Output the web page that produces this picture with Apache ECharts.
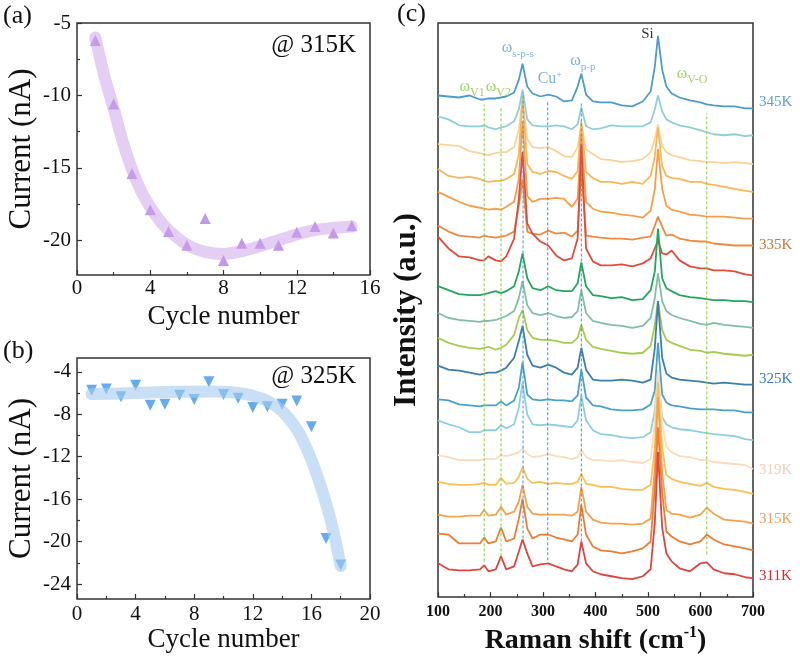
<!DOCTYPE html>
<html>
<head>
<meta charset="utf-8">
<script src="https://cdn.jsdelivr.net/npm/echarts@6/dist/echarts.min.js"></script>
<style>
  html, body { margin: 0; padding: 0; background: #ffffff; }
  #chart { width: 800px; height: 660px; }
</style>
</head>
<body>
<div id="chart"></div>
<script>
// ---------- Panel (a): current vs. cycle number at 315 K ----------
const cycleA = [1, 2, 3, 4, 5, 6, 7, 8, 9, 10, 11, 12, 13, 14, 15];
const currentA = [-6.2, -10.6, -15.4, -17.9, -19.4, -20.35, -18.5, -21.4, -20.2, -20.2, -20.35, -19.45, -19.05, -19.5, -19.0];
const fitCycleA = [1, 1.5, 2, 2.5, 3, 3.5, 4, 4.5, 5, 6, 7, 8, 9, 10, 11, 12, 13, 14, 15];
const fitCurrentA = [-6.0, -8.7, -10.9, -13.2, -15.1, -16.6, -17.7, -18.6, -19.3, -20.3, -20.8, -20.95, -20.75, -20.4, -20.0, -19.6, -19.3, -19.15, -19.05];
const yTicksA = [-20, -15, -10, -5];
const yMinorA = [-17.5, -12.5, -7.5];

// ---------- Panel (b): current vs. cycle number at 325 K ----------
const cycleB = [1, 2, 3, 4, 5, 6, 7, 8, 9, 10, 11, 12, 13, 14, 15, 16, 17, 18];
const currentB = [-5.73, -5.63, -6.35, -5.26, -7.14, -7.05, -6.2, -6.6, -4.94, -6.14, -6.5, -7.36, -7.3, -7.05, -6.76, -9.18, -19.7, -22.2];
const fitCycleB = [1, 3, 5, 7, 9, 10, 11, 12, 13, 14, 15, 15.5, 16, 16.5, 17, 17.5, 18];
const fitCurrentB = [-6.1, -6.05, -5.95, -5.88, -5.85, -5.88, -6.0, -6.25, -6.75, -7.7, -9.4, -10.7, -12.3, -14.2, -16.4, -19.0, -22.3];
const yTicksB = [-24, -20, -16, -12, -8, -4];
const yMinorB = [-22, -18, -14, -10, -6];

// ---------- Panel (c): Raman spectra, stacked from 345 K (top) to 311 K (bottom) ----------
const ramanShift = [100, 120, 140, 160, 180, 188, 196, 210, 220, 230, 245, 254, 261, 270, 280, 295, 310, 325, 340, 355,
  366, 373, 382, 395, 410, 430, 450, 470, 490, 505, 513, 519, 527, 535, 545, 560, 580, 600, 612, 625, 645, 665, 685, 700];

const intensity = [
  [505,504,503,505,501,501,502,502,503,504,508,521,537,514,507,504,506,504,499,500,514,527,506,499,498,498,495,494,499,509,534,565,531,514,507,503,500,498,496,495,494,494,492,492],
  [484,481,475,474,474,475,473,471,473,474,479,491,511,481,475,474,474,475,474,471,476,493,474,471,472,475,474,474,474,478,491,505,489,481,478,475,473,470,468,466,465,466,464,465],
  [456,455,454,449,447,446,445,447,448,448,453,471,501,461,453,452,453,449,444,443,453,476,451,446,441,440,438,439,441,448,461,476,454,448,445,443,440,439,438,438,437,438,437,436],
  [431,424,422,423,421,419,418,419,419,421,426,446,503,436,428,426,429,428,424,421,429,479,428,422,418,418,416,418,416,424,444,473,434,424,422,421,418,418,416,415,413,411,409,408],
  [408,403,398,394,392,391,390,391,390,393,398,421,479,404,398,401,401,402,401,393,401,466,398,391,388,387,385,384,382,389,411,451,411,394,390,388,385,384,383,383,383,382,381,381],
  [374,368,364,363,362,364,363,362,363,364,368,394,421,368,366,365,369,366,367,363,369,431,364,363,362,361,361,360,362,363,374,383,373,364,365,361,359,358,358,356,355,354,354,354],
  [363,351,343,342,339,339,343,339,338,343,361,401,448,376,366,358,354,344,339,341,361,456,351,338,334,334,335,333,336,341,351,359,346,345,349,339,333,331,331,329,329,328,325,324],
  [313,309,305,304,304,305,306,308,306,308,313,328,346,321,311,309,313,309,308,308,316,337,313,304,303,301,302,299,300,309,328,371,321,311,308,304,302,301,300,299,299,298,298,297],
  [286,281,279,278,277,278,278,279,281,283,288,301,318,294,286,284,286,283,281,282,288,309,286,278,276,274,273,271,273,281,301,326,298,288,284,281,278,275,274,276,274,273,272,271],
  [261,256,253,251,250,251,252,249,251,254,264,281,289,269,261,259,259,258,256,256,261,274,259,252,250,248,246,245,246,253,274,298,269,259,256,253,249,248,246,247,245,244,243,244],
  [233,229,228,226,224,225,226,226,228,231,241,258,273,244,233,231,234,231,226,224,231,251,229,219,218,218,219,218,216,219,251,298,241,225,221,219,218,217,216,215,216,215,214,214],
  [199,198,194,193,192,193,193,193,197,193,198,211,236,204,199,198,199,198,198,197,203,229,201,193,192,189,188,188,189,194,208,256,204,196,193,192,190,189,189,189,188,188,186,186],
  [178,174,171,166,166,168,168,168,173,170,174,191,216,184,174,173,174,173,172,171,178,203,178,168,164,163,161,160,161,166,188,226,181,174,171,169,168,166,165,164,163,162,159,158],
  [143,141,138,138,138,139,139,139,143,142,144,146,150,144,141,142,144,142,141,139,141,148,141,138,138,137,138,136,135,139,175,229,175,151,146,142,141,138,138,136,135,134,133,129],
  [116,114,113,113,114,115,113,113,120,114,115,121,131,119,115,116,114,115,114,114,116,124,114,113,111,111,109,108,108,113,150,216,150,123,119,116,114,112,115,111,109,108,106,104],
  [83,81,81,82,82,88,82,83,91,83,86,96,113,91,84,83,83,83,83,82,86,111,86,78,75,74,74,73,74,79,130,201,125,88,84,83,80,83,90,84,78,77,76,74],
  [64,63,54,54,54,60,54,56,70,56,59,79,99,69,59,63,63,60,58,56,63,93,63,51,47,46,44,46,49,56,110,171,105,66,61,56,53,56,63,58,53,51,49,47],
  [34,28,27,27,28,32,26,28,41,28,31,46,58,44,31,33,34,31,28,26,33,56,34,26,23,21,19,18,21,28,75,146,70,44,36,29,26,34,35,28,24,23,20,19]
];
const temperatureLabels = ['345K', '', '', '', '', '335K', '', '', '', '', '325K', '', '', '319K', '', '315K', '', '311K'];
const ramanTicks = [100, 200, 300, 400, 500, 600, 700];

// Assigned modes: [shift, lower intensity, upper intensity]
const modeLinesV = [[188, 36, 496], [220, 36, 494], [612, 43, 487]];
const modeLinesC = [[262, 59, 508], [309, 37, 499], [373, 56, 498]];

// ---------- styling ----------
const SERIF = '"Liberation Serif", "Times New Roman", serif';
const AXIS = '#333333';
const spectrumColors = ['#4d9ccb', '#90cfd8', '#fad39b', '#f7b85a', '#f4a04a', '#ee8a40', '#e24b3c', '#23a65f', '#80bfa6',
  '#a6cc4e', '#3b7fb0', '#4aa2cc', '#8ccfe0', '#fbdcbc', '#f8c152', '#f5a24b', '#ec7d35', '#e0443f'];
const labelColors = { '345K': '#5b9fd3', '335K': '#c8753a', '325K': '#3a7dbd', '319K': '#f1cdb6', '315K': '#ef9e5c', '311K': '#e0262c' };
const labelOffsets = { '345K': -6, '335K': 0, '325K': -5, '319K': 1, '315K': -5, '311K': -2 };

function pairs(xs, ys) { return xs.map((x, i) => [x, ys[i]]); }

function currentXAxis(grid, max, nameGap, labelMargin) {
  return {
    gridIndex: grid, type: 'value', min: 0, max: max, interval: 4,
    name: 'Cycle number', nameLocation: 'middle', nameGap: nameGap,
    nameTextStyle: { fontFamily: SERIF, fontSize: 27, color: '#111' },
    axisLine: { show: false },
    axisTick: { show: true, inside: true, length: 5, lineStyle: { color: AXIS, width: 1.2 } },
    minorTick: { show: true, splitNumber: 2, length: 3, lineStyle: { color: AXIS, width: 1.2 } },
    axisLabel: { fontFamily: SERIF, fontSize: 21, color: '#111', margin: labelMargin },
    splitLine: { show: false }
  };
}
function currentYAxes(grid, min, max, ticks, minor) {
  return [{
    gridIndex: grid, type: 'value', min: min, max: max, position: 'left',
    name: 'Current (nA)', nameLocation: 'middle', nameGap: 40,
    nameTextStyle: { fontFamily: SERIF, fontSize: 31, color: '#111' },
    axisLine: { show: false },
    axisTick: { show: true, inside: true, length: 5, customValues: ticks, lineStyle: { color: AXIS, width: 1.2 } },
    axisLabel: { customValues: ticks, fontFamily: SERIF, fontSize: 21, color: '#111', margin: 6 },
    splitLine: { show: false }
  }, {
    gridIndex: grid, type: 'value', min: min, max: max, position: 'left',
    axisLine: { show: false },
    axisTick: { show: true, inside: true, length: 3, customValues: minor, lineStyle: { color: AXIS, width: 1.2 } },
    axisLabel: { show: false },
    splitLine: { show: false }
  }];
}

const gridStyle = { show: true, borderColor: AXIS, borderWidth: 1.5, backgroundColor: 'transparent' };

const series = [];

// (a) measured points with the fitted trend drawn as a translucent band
series.push({
  type: 'scatter', xAxisIndex: 0, yAxisIndex: 0, data: pairs(cycleA, currentA),
  symbol: 'triangle', symbolSize: 11, itemStyle: { color: '#b07fe6' }, z: 3
});
series.push({
  type: 'line', xAxisIndex: 0, yAxisIndex: 0, data: pairs(fitCycleA, fitCurrentA),
  smooth: 0.3, showSymbol: false,
  lineStyle: { color: '#c99de9', width: 12, opacity: 0.5, cap: 'round', join: 'round' }, z: 4
});
// (b)
series.push({
  type: 'scatter', xAxisIndex: 1, yAxisIndex: 2, data: pairs(cycleB, currentB),
  symbol: 'triangle', symbolRotate: 180, symbolSize: 11, itemStyle: { color: '#3d97ea' }, z: 3
});
series.push({
  type: 'line', xAxisIndex: 1, yAxisIndex: 2, data: pairs(fitCycleB, fitCurrentB),
  smooth: 0.3, showSymbol: false,
  lineStyle: { color: '#a3c9f0', width: 12, opacity: 0.6, cap: 'round', join: 'round' }, z: 4
});

// (c) spectra, upper traces first so lower traces overlap them
intensity.forEach((vals, k) => {
  const t = temperatureLabels[k];
  const s = {
    type: 'line', xAxisIndex: 2, yAxisIndex: 4, data: pairs(ramanShift, vals),
    showSymbol: false, smooth: false,
    lineStyle: { color: spectrumColors[k], width: 1.8 }, z: 2
  };
  if (t) {
    s.endLabel = {
      show: true, formatter: t, color: labelColors[t], fontFamily: SERIF, fontSize: 15,
      distance: 6, offset: [0, labelOffsets[t]]
    };
  }
  series.push(s);
});

// dashed markers of the assigned modes
modeLinesV.forEach(m => series.push({
  type: 'line', xAxisIndex: 2, yAxisIndex: 4, data: [[m[0], m[1]], [m[0], m[2]]],
  showSymbol: false, lineStyle: { color: '#8cc63f', width: 1, type: [3, 2] }, z: 5, silent: true
}));
modeLinesC.forEach(m => series.push({
  type: 'line', xAxisIndex: 2, yAxisIndex: 4, data: [[m[0], m[1]], [m[0], m[2]]],
  showSymbol: false, lineStyle: { color: '#4a8fd6', width: 1, type: [3, 2] }, z: 5, silent: true
}));

// mode names placed above the spectra
const modeRich = {
  wb: { fontFamily: SERIF, fontSize: 16, color: '#5b9fd3', lineHeight: 20, verticalAlign: 'top' },
  sb: { fontFamily: SERIF, fontSize: 11, color: '#5b9fd3', lineHeight: 20, verticalAlign: 'bottom' },
  pb: { fontFamily: SERIF, fontSize: 10, color: '#5b9fd3', lineHeight: 20, verticalAlign: 'top' },
  wg: { fontFamily: SERIF, fontSize: 16, color: '#8cc63f', lineHeight: 20, verticalAlign: 'top' },
  sg: { fontFamily: SERIF, fontSize: 12, color: '#8cc63f', lineHeight: 20, verticalAlign: 'bottom' },
  si: { fontFamily: SERIF, fontSize: 15, color: '#000', lineHeight: 18 }
};
const modeNames = [
  { value: [252, 551], name: '{wb|ω}{sb|s-p-s}' },
  { value: [376, 538], name: '{wb|ω}{sb|p-p}' },
  { value: [313, 520], name: '{wb|Cu}{pb|+}' },
  { value: [499, 567], name: '{si|Si}' },
  { value: [165, 512], name: '{wg|ω}{sg|V1}' },
  { value: [215, 512], name: '{wg|ω}{sg|V2}' },
  { value: [584, 525], name: '{wg|ω}{sg|V-O}' }
];
series.push({
  type: 'scatter', xAxisIndex: 2, yAxisIndex: 4, data: modeNames, symbolSize: 0, silent: true, z: 6,
  label: { show: true, position: 'inside', formatter: '{b}', rich: modeRich }
});

const option = {
  animation: false,
  backgroundColor: '#ffffff',
  grid: [
    Object.assign({ left: 77, top: 23, width: 293, height: 252 }, gridStyle),
    Object.assign({ left: 77, top: 358, width: 293, height: 241 }, gridStyle),
    Object.assign({ left: 438, top: 23, width: 315, height: 578 }, gridStyle)
  ],
  xAxis: [
    currentXAxis(0, 16, 28, 3),
    currentXAxis(1, 20, 27, 5),
    {
      gridIndex: 2, type: 'value', min: 100, max: 700, interval: 100,
      name: '{t|Raman shift (cm}{u|-1}{t|)}', nameLocation: 'middle', nameGap: 22,
      nameTextStyle: {
        rich: {
          t: { fontFamily: SERIF, fontSize: 28, fontWeight: 'bold', color: '#111', lineHeight: 30, verticalAlign: 'bottom' },
          u: { fontFamily: SERIF, fontSize: 16, fontWeight: 'bold', color: '#111', lineHeight: 30, verticalAlign: 'top' }
        }
      },
      axisLine: { show: false },
      axisTick: { show: true, inside: true, length: 5, customValues: ramanTicks, lineStyle: { color: AXIS, width: 1.2 } },
      minorTick: { show: true, splitNumber: 2, length: 3, lineStyle: { color: AXIS, width: 1.2 } },
      axisLabel: { fontFamily: SERIF, fontSize: 16, fontWeight: 'bold', color: '#111', margin: 7 },
      splitLine: { show: false }
    }
  ],
  yAxis: [
    ...currentYAxes(0, -22.4, -5, yTicksA, yMinorA),
    ...currentYAxes(1, -25.4, -2.7, yTicksB, yMinorB),
    {
      gridIndex: 2, type: 'value', min: 0, max: 578,
      name: 'Intensity (a.u.)', nameLocation: 'middle', nameGap: 16,
      nameTextStyle: { fontFamily: SERIF, fontSize: 31, fontWeight: 'bold', color: '#111' },
      axisLine: { show: false }, axisTick: { show: false }, axisLabel: { show: false }, splitLine: { show: false }
    }
  ],
  graphic: [
    { type: 'text', left: 3, top: 3, style: { text: '(a)', font: '26px ' + SERIF, fill: '#111' } },
    { type: 'text', left: 3, top: 338, style: { text: '(b)', font: '26px ' + SERIF, fill: '#111' } },
    { type: 'text', left: 397, top: 1, style: { text: '(c)', font: '26px ' + SERIF, fill: '#111' } },
    { type: 'text', right: 444, top: 33, style: { text: '@ 315K', font: '25px ' + SERIF, fill: '#111' } },
    { type: 'text', right: 444, top: 364, style: { text: '@ 325K', font: '25px ' + SERIF, fill: '#111' } }
  ],
  series: series
};

const chart = echarts.init(document.getElementById('chart'), null, { renderer: 'canvas' });
chart.setOption(option);
</script>
</body>
</html>
